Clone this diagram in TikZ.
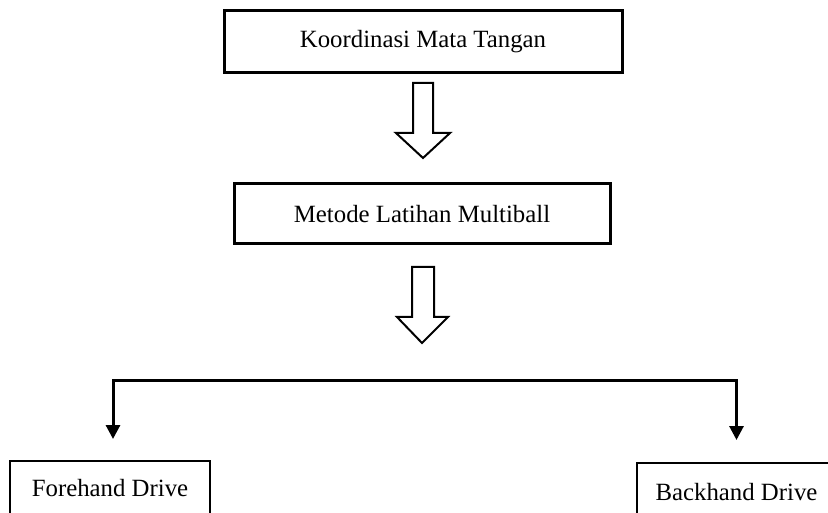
\documentclass[tikz,border=0pt]{standalone}
\usepackage{fontspec}
\setmainfont{Liberation Serif}
\usetikzlibrary{arrows.meta}

\tikzset{
  box/.style={draw, line width=3, minimum height=60, inner sep=0, font=\fontsize{24.8}{29}\selectfont},
  leafbox/.style={draw, line width=2, minimum height=56, inner sep=0, font=\fontsize{24.8}{29}\selectfont},
  blockarrow/.style={draw, line width=2, fill=white, line join=miter},
  branch/.style={line width=3, -{Triangle[length=14,width=14]}}
}

\begin{document}
\begin{tikzpicture}[x=1pt,y=1pt,yscale=-1,xscale=1]
\useasboundingbox (0,0) rectangle (828,513);

%Shape: Rectangle [id:top]
\node [box, minimum width=398, minimum height=62] (koord) at (423,42) {Koordinasi Mata Tangan};
%Shape: Rectangle [id:mid]
\node [box, minimum width=376] (metode) at (422,214) {Metode Latihan Multiball};
%Shape: Rectangle [id:left]
\node [leafbox, minimum width=200, minimum height=55] (fore) at (110,488.5) {Forehand Drive};
%Shape: Rectangle [id:right]
\node [leafbox, minimum width=199, minimum height=58] (back) at (736.5,492) {Backhand Drive};

%Shape: Down Arrow [id:arrow1]
\draw [blockarrow] (413,83) -- (433,83) -- (433,133) -- (450,133) -- (423,158) -- (396,133) -- (413,133) -- cycle ;
%Shape: Down Arrow [id:arrow2]
\draw [blockarrow] (412,267) -- (434,267) -- (434,317) -- (448,317) -- (422,343) -- (397,317) -- (412,317) -- cycle ;

%Straight Lines [id:branch]
\coordinate (split) at (423,380);
\draw [branch, shorten >=21] (split) -| ([xshift=3]fore.north) ;
\draw [branch, shorten >=22] (split) -| (back.north) ;

\end{tikzpicture}
\end{document}
